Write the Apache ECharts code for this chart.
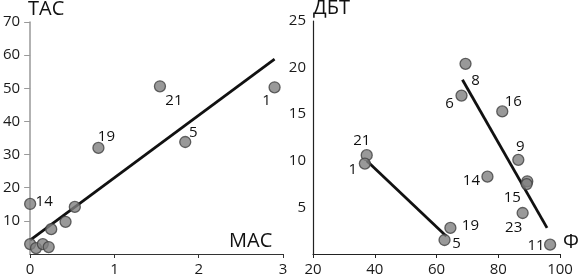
<!DOCTYPE html>
<html><head><meta charset="utf-8">
<script src="https://cdn.jsdelivr.net/npm/echarts@6/dist/echarts.min.js"></script>
<style>html,body{margin:0;padding:0;background:#fff}#c{width:579px;height:278px}</style>
</head><body><div id="c"></div>
<script>
// Left panel: МАС vs ТАС
const masX = [2.90, 1.54, 1.84, 0.81, 0.00, 0.53, 0.42, 0.25, 0.00, 0.07, 0.15, 0.22];
const tasY = [50.3, 50.6, 33.8, 32.0, 15.1, 14.2, 9.7, 7.5, 3.0, 1.8, 3.0, 2.1];
const leftLabels = ['1', '21', '5', '19', '14', '', '', '', '', '', '', ''];
const leftFitX = [0, 2.9];
const leftFitY = [4.2, 58.8];

// Right panel: Ф vs ДБТ
const phiX = [69.4, 68.1, 81.3, 37.4, 36.8, 86.5, 76.5, 89.4, 89.2, 87.9, 64.5, 62.6, 96.8];
const dbtY = [20.4, 17.0, 15.3, 10.6, 9.7, 10.1, 8.3, 7.8, 7.5, 4.4, 2.8, 1.5, 1.0];
const rightLabels = ['8', '6', '16', '21', '1', '9', '14', '15', '', '23', '19', '5', '11'];
const fitAX = [37.4, 63.2];
const fitAY = [10.0, 1.9];
const fitBX = [68.4, 95.8];
const fitBY = [18.7, 2.8];

const leftTicksX = [0, 3, 1];   // min, max, interval
const leftTicksY = [0, 70, 10];
const rightTicksX = [20, 100, 20];
const rightTicksY = [0, 25, 5];

// label offsets (style only)
const leftOff = [[-8, 13], [14, 14], [8, -9], [8, -11], [14, -2]];
const rightOff = [[10, 17], [-12, 8], [11, -10], [-5, -14], [-12, 6], [2, -13], [-16, 4], [-15, 16], null, [-9, 15], [20, -2], [12, 4], [-14, 1]];

const FONT = '"Open Sans", Lato, sans-serif';
const ptStyle = { color: '#7f7f7f', borderColor: '#404040', borderWidth: 1.3 };
const labelCommon = { fontFamily: FONT, fontSize: 15, color: '#1a1a1a' };

function pts(xs, ys, labs, offs) {
  return xs.map((x, i) => {
    const item = { value: [x, ys[i]] };
    if (labs[i]) {
      item.label = { show: true, formatter: labs[i], position: 'inside', offset: offs[i],
        fontFamily: FONT, fontSize: 15, color: '#111', opacity: 1,
        textBorderWidth: 0, textBorderColor: 'transparent', textShadowBlur: 0 };
    }
    return item;
  });
}
function line(xs, ys) { return xs.map((x, i) => [x, ys[i]]); }

const chart = echarts.init(document.getElementById('c'), null, { renderer: 'canvas' });

chart.setOption({
  animation: false,
  backgroundColor: '#fff',
  grid: [
    { left: 28, top: 22, width: 255, height: 232 },
    { left: 313, top: 21, width: 247, height: 233 }
  ],
  xAxis: [
    { gridIndex: 0, type: 'value', min: leftTicksX[0], max: leftTicksX[1], interval: leftTicksX[2],
      splitLine: { show: false },
      axisLine: { lineStyle: { color: '#333', width: 1.2 } },
      axisTick: { show: true, length: 4, lineStyle: { color: '#333' } },
      axisLabel: Object.assign({ margin: 8 }, labelCommon) },
    { gridIndex: 1, type: 'value', min: rightTicksX[0], max: rightTicksX[1], interval: rightTicksX[2],
      splitLine: { show: false },
      axisLine: { lineStyle: { color: '#222', width: 1.2 } },
      axisTick: { show: true, length: 4, lineStyle: { color: '#222' } },
      axisLabel: Object.assign({ margin: 8 }, labelCommon) }
  ],
  yAxis: [
    { gridIndex: 0, type: 'value', min: leftTicksY[0], max: leftTicksY[1], interval: leftTicksY[2],
      splitLine: { show: false },
      axisLine: { show: true, lineStyle: { color: '#999', width: 1.5 } },
      axisTick: { show: true, length: 6, lineStyle: { color: '#999' } },
      axisLabel: Object.assign({ margin: 10, showMinLabel: false }, labelCommon) },
    { gridIndex: 1, type: 'value', min: rightTicksY[0], max: rightTicksY[1], interval: rightTicksY[2],
      splitLine: { show: false },
      axisLine: { show: true, lineStyle: { color: '#222', width: 1.2 } },
      axisTick: { show: false },
      axisLabel: Object.assign({ margin: 7, showMinLabel: false }, labelCommon) }
  ],
  series: [
    { type: 'line', xAxisIndex: 0, yAxisIndex: 0, data: line(leftFitX, leftFitY), symbol: 'none',
      lineStyle: { color: '#111', width: 2.8 }, z: 1 },
    { type: 'line', xAxisIndex: 1, yAxisIndex: 1, data: line(fitAX, fitAY), symbol: 'none',
      lineStyle: { color: '#111', width: 2.8 }, z: 1 },
    { type: 'line', xAxisIndex: 1, yAxisIndex: 1, data: line(fitBX, fitBY), symbol: 'none',
      lineStyle: { color: '#111', width: 2.8 }, z: 1 },
    { type: 'scatter', xAxisIndex: 0, yAxisIndex: 0, symbolSize: 11, itemStyle: ptStyle, z: 3,
      data: pts(masX, tasY, leftLabels, leftOff) },
    { type: 'scatter', xAxisIndex: 1, yAxisIndex: 1, symbolSize: 11, itemStyle: ptStyle, z: 3,
      data: pts(phiX, dbtY, rightLabels, rightOff) }
  ],
  graphic: [
    { type: 'text', left: 28, top: -1, style: { text: 'ТАС', font: '20px ' + FONT, fill: '#111' } },
    { type: 'text', left: 229, top: 231, style: { text: 'МАС', font: '20px ' + FONT, fill: '#111' } },
    { type: 'text', left: 313, top: -2, style: { text: 'ДБТ', font: '20px ' + FONT, fill: '#111' } },
    { type: 'text', left: 563, top: 232, style: { text: 'Ф', font: '20px ' + FONT, fill: '#111' } }
  ]
});
</script>
</body></html>
